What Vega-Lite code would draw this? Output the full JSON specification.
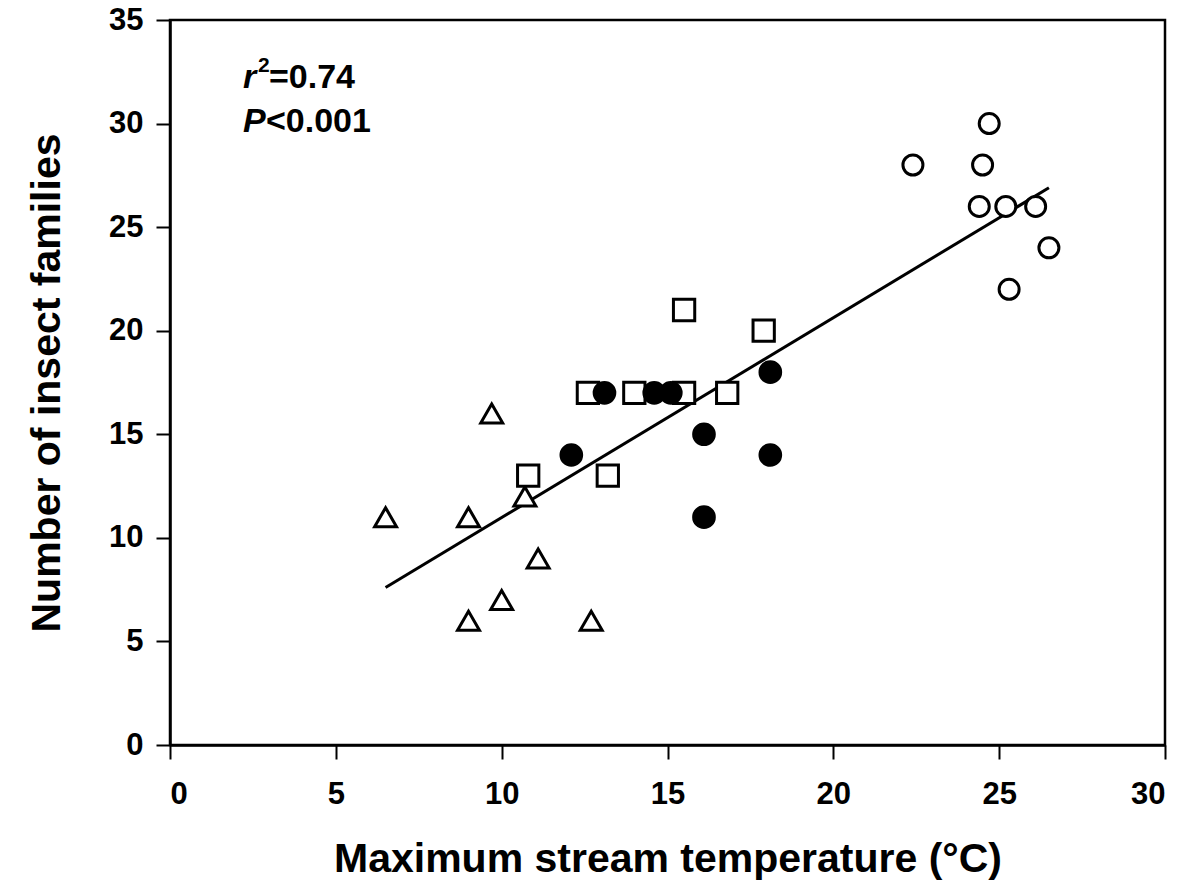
{
  "$schema": "https://vega.github.io/schema/vega-lite/v6.json",
  "width": 995,
  "height": 725,
  "autosize": {"type": "none"},
  "padding": {"left": 170, "top": 20, "right": 25, "bottom": 151},
  "background": "white",
  "config": {
    "view": {"stroke": "black", "strokeWidth": 2.5},
    "font": "Liberation Sans",
    "axis": {
      "grid": false,
      "domainColor": "black",
      "domainWidth": 2.5,
      "tickColor": "black",
      "tickWidth": 2,
      "tickSize": 14,
      "labelFont": "Liberation Sans",
      "labelFontWeight": "bold",
      "labelFontSize": 31,
      "labelColor": "black",
      "titleFont": "Liberation Sans",
      "titleFontWeight": "bold",
      "titleFontSize": 41,
      "titleColor": "black"
    }
  },
  "datasets": {
    "pts": [
      {"group": "A", "temp": 6.5, "families": 11},
      {"group": "A", "temp": 9.0, "families": 11},
      {"group": "A", "temp": 9.7, "families": 16},
      {"group": "A", "temp": 10.7, "families": 12},
      {"group": "A", "temp": 10.0, "families": 7},
      {"group": "A", "temp": 9.0, "families": 6},
      {"group": "A", "temp": 11.1, "families": 9},
      {"group": "A", "temp": 12.7, "families": 6},
      {"group": "B", "temp": 10.8, "families": 13},
      {"group": "B", "temp": 12.6, "families": 17},
      {"group": "B", "temp": 13.2, "families": 13},
      {"group": "B", "temp": 14.0, "families": 17},
      {"group": "B", "temp": 15.5, "families": 21},
      {"group": "B", "temp": 15.5, "families": 17},
      {"group": "B", "temp": 16.8, "families": 17},
      {"group": "B", "temp": 17.9, "families": 20},
      {"group": "C", "temp": 12.1, "families": 14},
      {"group": "C", "temp": 13.1, "families": 17},
      {"group": "C", "temp": 14.6, "families": 17},
      {"group": "C", "temp": 15.1, "families": 17},
      {"group": "C", "temp": 16.1, "families": 15},
      {"group": "C", "temp": 16.1, "families": 11},
      {"group": "C", "temp": 18.1, "families": 18},
      {"group": "C", "temp": 18.1, "families": 14},
      {"group": "D", "temp": 22.4, "families": 28},
      {"group": "D", "temp": 24.7, "families": 30},
      {"group": "D", "temp": 24.5, "families": 28},
      {"group": "D", "temp": 24.4, "families": 26},
      {"group": "D", "temp": 25.2, "families": 26},
      {"group": "D", "temp": 26.1, "families": 26},
      {"group": "D", "temp": 26.5, "families": 24},
      {"group": "D", "temp": 25.3, "families": 22}
    ],
    "fit": [
      {"temp": 6.5, "families": 7.6},
      {"temp": 26.5, "families": 26.9}
    ],
    "one": [{"k": 1}]
  },
  "layer": [
    {
      "data": {"name": "fit"},
      "mark": {"type": "line", "color": "black", "strokeWidth": 3},
      "encoding": {
        "x": {
          "field": "temp", "type": "quantitative",
          "scale": {"domain": [0, 30], "nice": false},
          "axis": {"values": [0, 5, 10, 15, 20, 25, 30], "title": "Maximum stream temperature (°C)", "titlePadding": 30, "labelPadding": 20}
        },
        "y": {
          "field": "families", "type": "quantitative",
          "scale": {"domain": [0, 35], "nice": false},
          "axis": {"values": [0, 5, 10, 15, 20, 25, 30, 35], "title": "Number of insect families", "titlePadding": 40, "labelPadding": 13}
        }
      }
    },
    {
      "data": {"name": "pts"},
      "mark": {"type": "point", "strokeWidth": 3, "opacity": 1},
      "encoding": {
        "x": {"field": "temp", "type": "quantitative"},
        "y": {"field": "families", "type": "quantitative"},
        "shape": {
          "field": "group", "type": "nominal",
          "scale": {"domain": ["A", "B", "C", "D"], "range": ["triangle-up", "square", "circle", "circle"]},
          "legend": null
        },
        "fill": {
          "field": "group", "type": "nominal",
          "scale": {"domain": ["A", "B", "C", "D"], "range": ["white", "white", "black", "white"]},
          "legend": null
        },
        "stroke": {"value": "black"},
        "size": {
          "field": "group", "type": "nominal",
          "scale": {"domain": ["A", "B", "C", "D"], "range": [480, 400, 420, 420]},
          "legend": null
        }
      }
    },
    {
      "data": {"name": "one"},
      "mark": {"type": "text", "text": "r", "fontStyle": "italic", "fontWeight": "bold", "fontSize": 34, "align": "left", "baseline": "alphabetic", "color": "black"},
      "encoding": {"x": {"datum": 2.2}, "y": {"datum": 31.72}}
    },
    {
      "data": {"name": "one"},
      "mark": {"type": "text", "text": "2", "fontWeight": "bold", "fontSize": 21, "align": "left", "baseline": "alphabetic", "color": "black", "dx": 15, "dy": -16},
      "encoding": {"x": {"datum": 2.2}, "y": {"datum": 31.72}}
    },
    {
      "data": {"name": "one"},
      "mark": {"type": "text", "text": "=0.74", "fontWeight": "bold", "fontSize": 34, "align": "left", "baseline": "alphabetic", "color": "black", "dx": 26},
      "encoding": {"x": {"datum": 2.2}, "y": {"datum": 31.72}}
    },
    {
      "data": {"name": "one"},
      "mark": {"type": "text", "text": "P", "fontStyle": "italic", "fontWeight": "bold", "fontSize": 34, "align": "left", "baseline": "alphabetic", "color": "black"},
      "encoding": {"x": {"datum": 2.2}, "y": {"datum": 29.6}}
    },
    {
      "data": {"name": "one"},
      "mark": {"type": "text", "text": "<0.001", "fontWeight": "bold", "fontSize": 34, "align": "left", "baseline": "alphabetic", "color": "black", "dx": 23},
      "encoding": {"x": {"datum": 2.2}, "y": {"datum": 29.6}}
    }
  ]
}
